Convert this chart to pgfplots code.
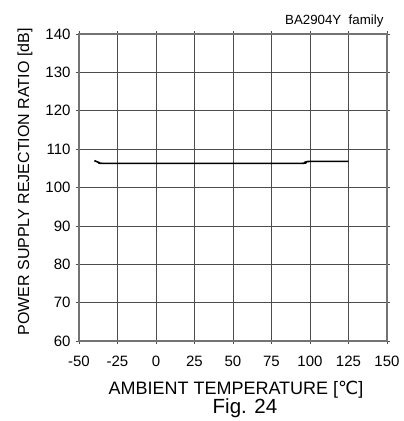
\documentclass[border=0pt]{standalone}
\usepackage{pgfplots}
\pgfplotsset{compat=1.18}
\usepackage{fontspec}
\setmainfont{Liberation Sans}
\newfontfamily\dejavu{DejaVu Sans}
\begin{document}
\begin{tikzpicture}[x=1pt,y=1pt]
\useasboundingbox (0,0) rectangle (404,421);
\begin{axis}[
  at={(79pt,80pt)}, anchor=south west,
  width=308pt, height=307pt, scale only axis,
  xmin=-50, xmax=150, ymin=60, ymax=140,
  xtick={-50,-25,0,25,50,75,100,125,150},
  ytick={60,70,80,90,100,110,120,130,140},
  grid=major,
  major grid style={line width=0.7pt, color=black!70},
  axis line style={line width=1.2pt, color=black!55},
  tick style={color=black!70, line width=0.6pt},
  tick align=outside, major tick length=3pt,
  /pgf/number format/assume math mode=true,
  ticklabel style={font=\fontsize{15}{17}\selectfont},
  xticklabel style={yshift=-8pt, text height=11pt, text depth=0pt, anchor=north},
  yticklabel style={xshift=-2pt},
  clip=false,
]
\addplot[black, line width=1.6pt, smooth, tension=0.3] coordinates {
(-40,107.0) (-37,106.5) (-35,106.3) (0,106.3) (50,106.3) (95,106.3) (97,106.6) (100,106.8) (125,106.8)
};
\end{axis}
\node[anchor=base east, font=\fontsize{13.3}{15}\selectfont] at (387,396) {BA2904Y\ \ family};
\node[rotate=90, font=\fontsize{16}{18}\selectfont] at (25,239) {POWER SUPPLY REJECTION RATIO [dB]};
\node[font=\fontsize{18}{20}\selectfont] at (236,31) {AMBIENT TEMPERATURE [{\dejavu ℃}]};
\node[font=\fontsize{20.5}{22}\selectfont] at (245,13) {Fig. 24};
\end{tikzpicture}
\end{document}
